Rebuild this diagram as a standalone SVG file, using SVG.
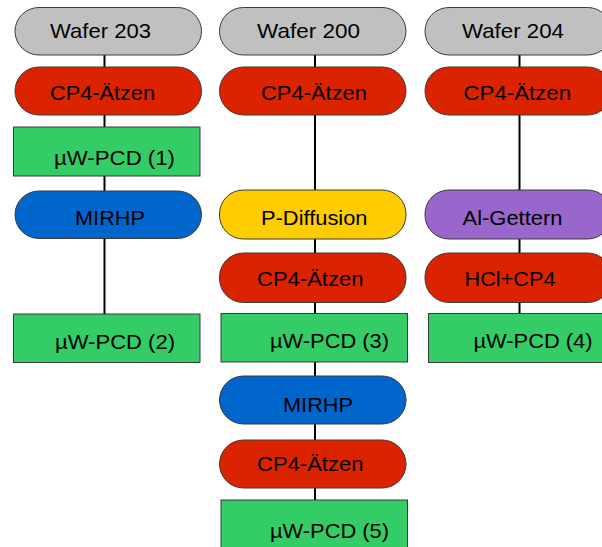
<svg xmlns="http://www.w3.org/2000/svg" width="602" height="547" viewBox="0 0 602 547">
<style>
.n{stroke:#3a3a3a;stroke-width:1}
.gray{fill:#c0c0c0}.red{fill:#dc2300}.green{fill:#33cc66}.blue{fill:#0066cc}.yellow{fill:#ffcc00}.purple{fill:#9966cc}
text{font-family:"Liberation Sans",Arial,sans-serif;font-size:21px;fill:#000}
.c line{stroke:#000;stroke-width:2}
</style>
<rect width="602" height="547" fill="#fff"/>
<g class="c" id="connectors">
<line x1="104.5" y1="55" x2="104.5" y2="67"/>
<line x1="104.5" y1="115" x2="104.5" y2="127"/>
<line x1="104.5" y1="176" x2="104.5" y2="191"/>
<line x1="104.5" y1="238" x2="104.5" y2="314"/>
<line x1="315" y1="55" x2="315" y2="67"/>
<line x1="315" y1="115" x2="315" y2="190"/>
<line x1="315" y1="239" x2="315" y2="253"/>
<line x1="315" y1="303" x2="315" y2="313"/>
<line x1="315" y1="362" x2="315" y2="376"/>
<line x1="315" y1="424" x2="315" y2="440"/>
<line x1="315" y1="488" x2="315" y2="500"/>
<line x1="519.5" y1="55" x2="519.5" y2="67"/>
<line x1="519.5" y1="115" x2="519.5" y2="190"/>
<line x1="519.5" y1="239" x2="519.5" y2="253"/>
<line x1="519.5" y1="303" x2="519.5" y2="313"/>
</g>
<g id="wafer203"><rect class="n gray" x="15" y="7.5" width="186.5" height="47.5" rx="24"/><text x="50" y="38" textLength="101" lengthAdjust="spacingAndGlyphs">Wafer 203</text></g>
<g id="cp4_1"><rect class="n red" x="15" y="67" width="186.5" height="48" rx="24"/><text x="50" y="100" textLength="105" lengthAdjust="spacingAndGlyphs">CP4-Ätzen</text></g>
<g id="pcd1"><rect class="n green" x="13.5" y="127" width="186.5" height="49"/><text x="54" y="164.5" textLength="121" lengthAdjust="spacingAndGlyphs">µW-PCD (1)</text></g>
<g id="mirhp1"><rect class="n blue" x="15" y="191" width="186.5" height="47.5" rx="24"/><text x="75" y="225" textLength="70" lengthAdjust="spacingAndGlyphs">MIRHP</text></g>
<g id="pcd2"><rect class="n green" x="13.5" y="314" width="186.5" height="48.5"/><text x="55" y="349" textLength="120" lengthAdjust="spacingAndGlyphs">µW-PCD (2)</text></g>

<g id="wafer200"><rect class="n gray" x="219.5" y="7.5" width="186.5" height="47.5" rx="24"/><text x="257" y="38" textLength="103" lengthAdjust="spacingAndGlyphs">Wafer 200</text></g>
<g id="cp4_2"><rect class="n red" x="219.5" y="67" width="186.5" height="48" rx="24"/><text x="261" y="100" textLength="106" lengthAdjust="spacingAndGlyphs">CP4-Ätzen</text></g>
<g id="pdiff"><rect class="n yellow" x="219.5" y="190" width="186.5" height="49" rx="24"/><text x="261" y="225" textLength="106.5" lengthAdjust="spacingAndGlyphs">P-Diffusion</text></g>
<g id="cp4_3"><rect class="n red" x="219.5" y="253" width="186.5" height="49.5" rx="24"/><text x="257" y="285.5" textLength="106.5" lengthAdjust="spacingAndGlyphs">CP4-Ätzen</text></g>
<g id="pcd3"><rect class="n green" x="221" y="313.5" width="186.5" height="48.5"/><text x="270" y="348" textLength="119" lengthAdjust="spacingAndGlyphs">µW-PCD (3)</text></g>
<g id="mirhp2"><rect class="n blue" x="219.5" y="376" width="186.5" height="48" rx="24"/><text x="283" y="411.5" textLength="70" lengthAdjust="spacingAndGlyphs">MIRHP</text></g>
<g id="cp4_4"><rect class="n red" x="219.5" y="440" width="186.5" height="48" rx="24"/><text x="257" y="471" textLength="106.5" lengthAdjust="spacingAndGlyphs">CP4-Ätzen</text></g>
<g id="pcd5"><rect class="n green" x="221" y="500" width="186.5" height="50"/><text x="270" y="538" textLength="119" lengthAdjust="spacingAndGlyphs">µW-PCD (5)</text></g>

<g id="wafer204"><rect class="n gray" x="425" y="7.5" width="186.5" height="47.5" rx="24"/><text x="462" y="38" textLength="102" lengthAdjust="spacingAndGlyphs">Wafer 204</text></g>
<g id="cp4_5"><rect class="n red" x="425" y="67" width="186.5" height="48" rx="24"/><text x="463.5" y="100" textLength="107.5" lengthAdjust="spacingAndGlyphs">CP4-Ätzen</text></g>
<g id="algettern"><rect class="n purple" x="425" y="190" width="186.5" height="49" rx="24"/><text x="462.5" y="225" textLength="100" lengthAdjust="spacingAndGlyphs">Al-Gettern</text></g>
<g id="hclcp4"><rect class="n red" x="425" y="253" width="186.5" height="49.5" rx="24"/><text x="464.5" y="286" textLength="91" lengthAdjust="spacingAndGlyphs">HCl+CP4</text></g>
<g id="pcd4"><rect class="n green" x="428.5" y="313.5" width="186.5" height="49"/><text x="473.5" y="347.5" textLength="119" lengthAdjust="spacingAndGlyphs">µW-PCD (4)</text></g>
</svg>
